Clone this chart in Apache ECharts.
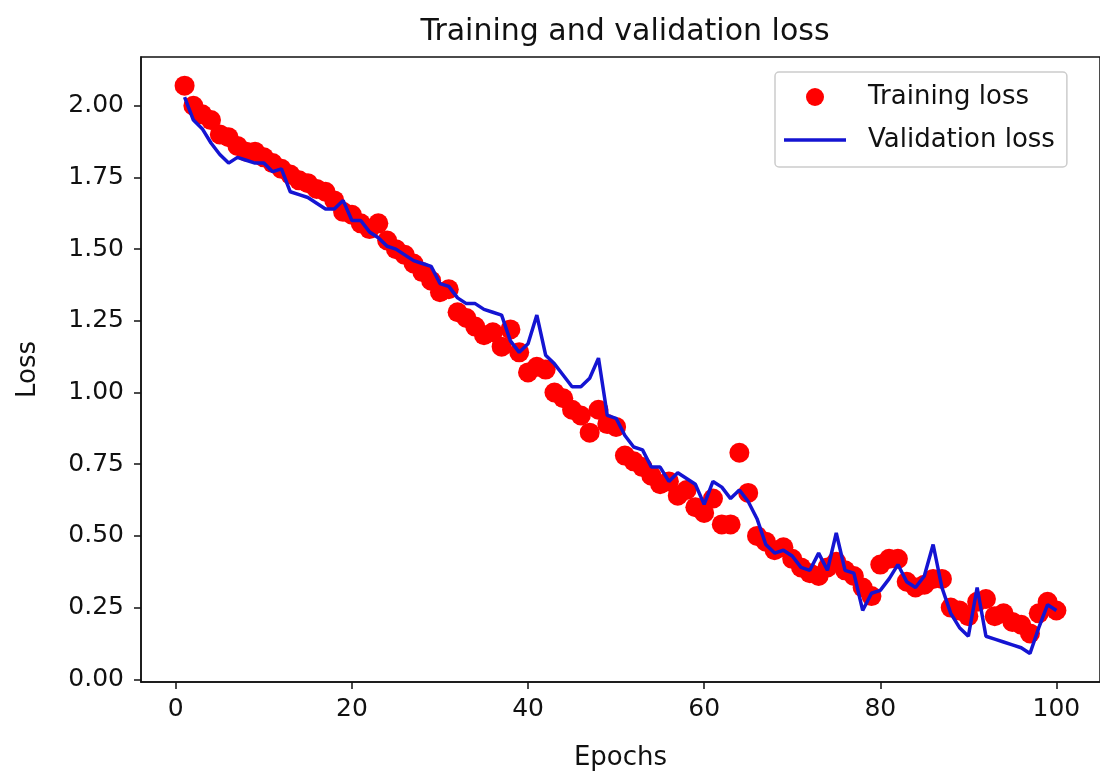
<!DOCTYPE html>
<html>
<head>
<meta charset="utf-8">
<script src="https://cdn.jsdelivr.net/npm/echarts@6/dist/echarts.min.js"></script>
<style>
  html, body { margin: 0; padding: 0; background: #fff; }
  #main { width: 1100px; height: 776px; }
</style>
</head>
<body>
<div id="main"></div>
<script>
// epochs 1..100
var epochs = [];
for (var i = 1; i <= 100; i++) epochs.push(i);

var trainLoss = [
  2.07, 2.00, 1.97, 1.95, 1.90, 1.89, 1.86, 1.84, 1.84, 1.82,
  1.80, 1.78, 1.76, 1.74, 1.73, 1.71, 1.70, 1.67, 1.63, 1.62,
  1.59, 1.57, 1.59, 1.53, 1.50, 1.48, 1.45, 1.42, 1.39, 1.35,
  1.36, 1.28, 1.26, 1.23, 1.20, 1.21, 1.16, 1.22, 1.14, 1.07,
  1.09, 1.08, 1.00, 0.98, 0.94, 0.92, 0.86, 0.94, 0.89, 0.88,
  0.78, 0.76, 0.74, 0.71, 0.68, 0.69, 0.64, 0.66, 0.60, 0.58,
  0.63, 0.54, 0.54, 0.79, 0.65, 0.50, 0.48, 0.45, 0.46, 0.42,
  0.39, 0.37, 0.36, 0.39, 0.41, 0.38, 0.36, 0.32, 0.29, 0.40,
  0.42, 0.42, 0.34, 0.32, 0.33, 0.35, 0.35, 0.25, 0.24, 0.22,
  0.27, 0.28, 0.22, 0.23, 0.20, 0.19, 0.16, 0.23, 0.27, 0.24
];

var valLoss = [
  2.03, 1.95, 1.92, 1.87, 1.83, 1.80, 1.82, 1.81, 1.80, 1.80,
  1.77, 1.78, 1.70, 1.69, 1.68, 1.66, 1.64, 1.64, 1.67, 1.60,
  1.60, 1.56, 1.54, 1.51, 1.50, 1.48, 1.46, 1.45, 1.44, 1.38,
  1.37, 1.33, 1.31, 1.31, 1.29, 1.28, 1.27, 1.18, 1.14, 1.17,
  1.27, 1.13, 1.10, 1.06, 1.02, 1.02, 1.05, 1.12, 0.92, 0.91,
  0.85, 0.81, 0.80, 0.74, 0.74, 0.69, 0.72, 0.70, 0.68, 0.61,
  0.69, 0.67, 0.63, 0.66, 0.62, 0.56, 0.47, 0.44, 0.45, 0.43,
  0.39, 0.38, 0.44, 0.38, 0.51, 0.38, 0.37, 0.24, 0.30, 0.31,
  0.35, 0.40, 0.34, 0.32, 0.36, 0.47, 0.32, 0.23, 0.18, 0.15,
  0.32, 0.15, 0.14, 0.13, 0.12, 0.11, 0.09, 0.18, 0.26, 0.24
];

var xTicks = [0, 20, 40, 60, 80, 100];
var yTicks = [0, 0.25, 0.5, 0.75, 1.0, 1.25, 1.5, 1.75, 2.0];

var trainData = epochs.map(function (e, i) { return [e, trainLoss[i]]; });
var valData = epochs.map(function (e, i) { return [e, valLoss[i]]; });

var font = 'DejaVu Sans';
var blue = '#1414d2';
var chartDom = document.getElementById('main');
var myChart = echarts.init(chartDom, null, { renderer: 'canvas' });
var option;

option = {
  animation: false,
  backgroundColor: '#fff',
  textStyle: { fontFamily: font },
  title: {
    text: 'Training and validation loss',
    left: 620,
    textAlign: 'center',
    top: 12,
    textStyle: { fontFamily: font, fontSize: 30, fontWeight: 'normal', color: '#111' }
  },
  legend: {
    orient: 'vertical',
    left: 775,
    top: 72,
    padding: [10, 12, 12, 9],
    itemWidth: 62,
    itemHeight: 18,
    itemGap: 13,
    backgroundColor: 'rgba(255,255,255,0.8)',
    borderColor: '#cccccc',
    borderWidth: 1.5,
    borderRadius: 4,
    textStyle: { fontFamily: font, fontSize: 26, color: '#111', lineHeight: 30, padding: [0, 0, 0, 17] },
    data: [
      { name: 'Training loss', icon: 'circle' },
      { name: 'Validation loss', icon: 'path://M0,0L62,0L62,3.5L0,3.5Z' }
    ]
  },
  grid: {
    left: 141,
    top: 57,
    right: -1,
    bottom: 92,
    show: true,
    borderColor: '#111',
    borderWidth: 1.5
  },
  xAxis: {
    type: 'value',
    min: -3.95,
    max: 104.95,
    name: 'Epochs',
    nameLocation: 'middle',
    nameGap: 63,
    nameTextStyle: { fontFamily: font, fontSize: 26, color: '#111' },
    axisLine: { onZero: false, lineStyle: { color: '#111', width: 1.5 } },
    axisTick: { show: true, length: 7, lineStyle: { color: '#111', width: 1.5 }, customValues: xTicks },
    axisLabel: { fontFamily: font, fontSize: 25, color: '#111', margin: 15, customValues: xTicks },
    splitLine: { show: false }
  },
  yAxis: {
    type: 'value',
    min: -0.0095,
    max: 2.17,
    name: 'Loss',
    nameLocation: 'middle',
    nameGap: 100,
    nameTextStyle: { fontFamily: font, fontSize: 26, color: '#111' },
    axisLine: { show: true, onZero: false, lineStyle: { color: '#111', width: 1.5 } },
    axisTick: { show: true, length: 7, lineStyle: { color: '#111', width: 1.5 }, customValues: yTicks },
    axisLabel: {
      fontFamily: font, fontSize: 25, color: '#111', margin: 17, customValues: yTicks,
      formatter: function (v) { return v.toFixed(2); }
    },
    splitLine: { show: false }
  },
  series: [
    {
      name: 'Training loss',
      type: 'scatter',
      symbol: 'circle',
      symbolSize: 20,
      itemStyle: { color: '#ff0000', opacity: 1 },
      data: trainData,
      z: 2
    },
    {
      name: 'Validation loss',
      type: 'line',
      symbol: 'none',
      lineStyle: { color: blue, width: 3.5 },
      itemStyle: { color: blue },
      data: valData,
      z: 3
    }
  ]
};
myChart.setOption(option);
</script>
</body>
</html>
